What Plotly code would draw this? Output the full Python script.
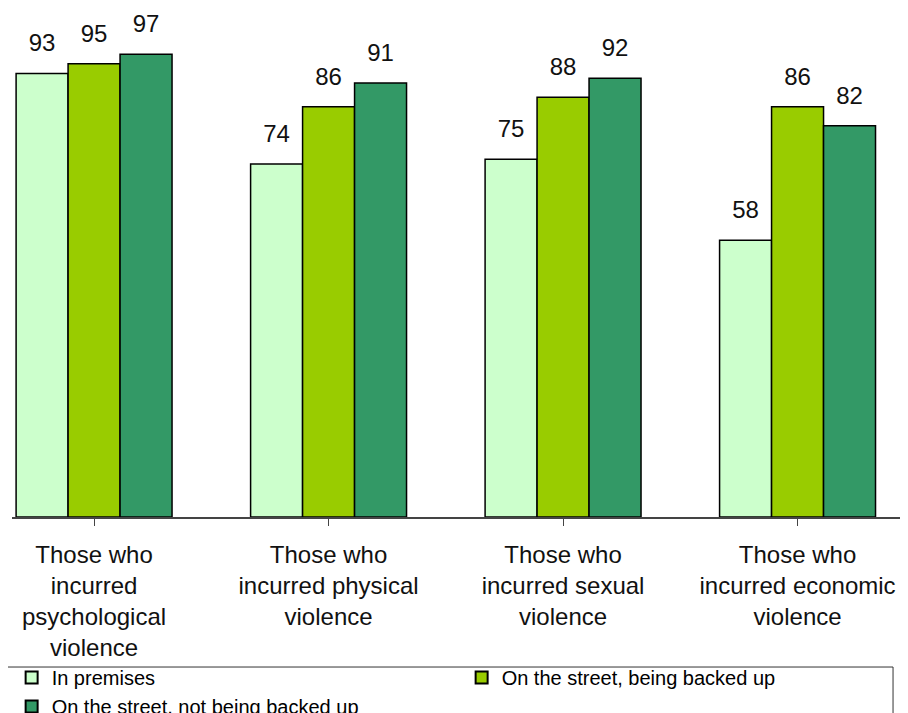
import plotly.graph_objects as go

categories = [
    "Those who<br>incurred<br>psychological<br>violence",
    "Those who<br>incurred physical<br>violence",
    "Those who<br>incurred sexual<br>violence",
    "Those who<br>incurred economic<br>violence",
]
series_names = ["In premises", "On the street, being backed up", "On the street, not being backed up"]
in_premises = [93, 74, 75, 58]
street_backed = [95, 86, 88, 86]
street_not_backed = [97, 91, 92, 82]
colors = ["#CCFFCC", "#99CC00", "#339966"]

xs = list(range(len(categories)))
fig = go.Figure()
for k, (name, vals, col) in enumerate(zip(series_names, [in_premises, street_backed, street_not_backed], colors)):
    fig.add_trace(go.Bar(
        x=xs, y=vals, name=name, offsetgroup=str(k),
        marker=dict(color=col, line=dict(color="black", width=1.5)),
    ))
for k, vals in enumerate([in_premises, street_backed, street_not_backed]):
    fig.add_trace(go.Scatter(
        x=xs, y=vals, mode="markers+text", offsetgroup=str(k),
        text=[str(v) for v in vals], textposition="top center",
        marker=dict(size=24, opacity=0), showlegend=False, hoverinfo="skip",
        cliponaxis=False,
        textfont=dict(family="Liberation Sans, Arial", size=24, color="#111111"),
    ))

# legend frame
fig.add_shape(type="rect", xref="paper", yref="paper",
              x0=-0.0056, x1=0.9833, y0=-0.6, y1=-0.3145,
              line=dict(color="#333333", width=1), fillcolor="rgba(0,0,0,0)", layer="above")

fig.update_layout(
    width=908, height=713,
    margin=dict(l=4, r=8, t=32, b=204, autoexpand=False),
    paper_bgcolor="white", plot_bgcolor="white",
    barmode="group", bargap=0.335, bargroupgap=0,
    scattermode="group", scattergap=0.335,
    showlegend=True,
    legend=dict(
        orientation="h", xref="container", yref="container",
        x=0.004, y=1 - 650 / 713, xanchor="left", yanchor="top",
        borderwidth=0, bgcolor="rgba(0,0,0,0)",
        entrywidth=405, entrywidthmode="pixels",
        font=dict(family="Liberation Sans, Arial", size=20, color="black"),
        itemsizing="constant", tracegroupgap=0,
    ),
    xaxis=dict(
        range=[-0.35, 3.471], automargin=False,
        tickmode="array", tickvals=xs, ticktext=categories,
        showline=True, linecolor="#444444", linewidth=1.5,
        ticks="outside", tickson="boundaries", ticklen=7, tickcolor="#444444",
        ticklabelstandoff=8,
        tickfont=dict(family="Liberation Sans, Arial", size=24, color="#111111"),
        showgrid=False, zeroline=False,
    ),
    yaxis=dict(range=[0, 100], visible=False, showgrid=False),
)

fig.write_html("out.html")
